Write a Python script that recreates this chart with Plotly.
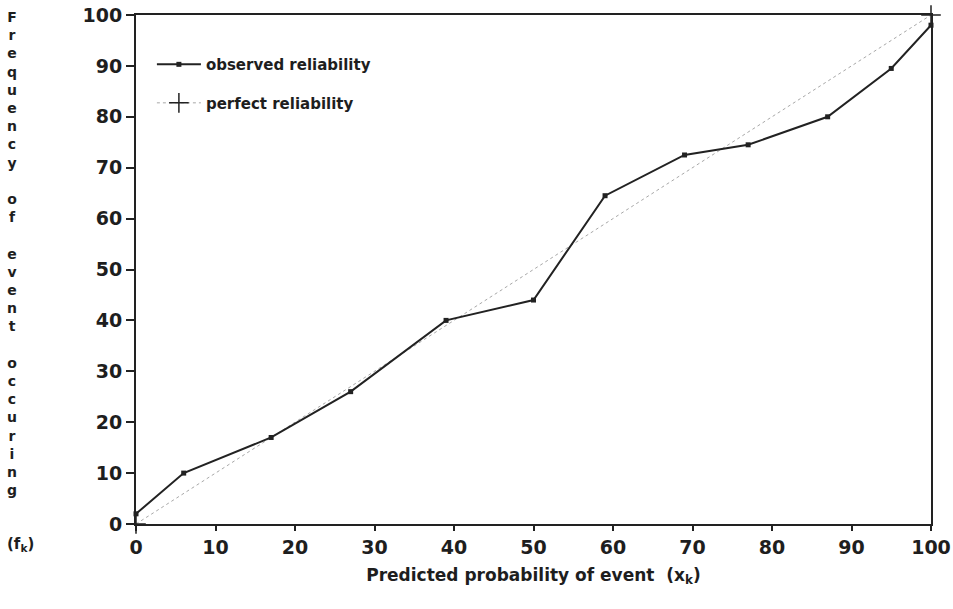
import plotly.graph_objects as go

# Data
obs_x = [0, 6, 17, 27, 39, 50, 59, 69, 77, 87, 95, 100]
obs_y = [2, 10, 17, 26, 40, 44, 64.5, 72.5, 74.5, 80, 89.5, 98]
perf_x = [0, 100]
perf_y = [0, 100]
tick_vals = [0, 10, 20, 30, 40, 50, 60, 70, 80, 90, 100]

FONT = "DejaVu Sans"
TXT = "#1e1e1e"

fig = go.Figure()
fig.add_trace(go.Scatter(
    x=perf_x, y=perf_y, mode="lines+markers", name="perfect reliability",
    line=dict(color="#a8a8a8", width=1, dash="dot"),
    marker=dict(symbol="cross-thin", size=14, line=dict(color="#222", width=1.5)),
    legendgroup="b", legendrank=2, cliponaxis=False,
))
fig.add_trace(go.Scatter(
    x=obs_x, y=obs_y, mode="lines+markers", name="observed reliability",
    line=dict(color="#222", width=2),
    marker=dict(symbol="square", size=5, color="#222"),
    legendgroup="a", legendrank=1, cliponaxis=False,
))

y_title = "<br>".join(list("Frequency") + [" "] + list("of") + [" "] + list("event") + [" "] + list("occuring"))
fig.add_annotation(text=y_title, xref="paper", yref="paper", x=-0.156, y=1, yshift=8,
                   xanchor="center", yanchor="top", showarrow=False, align="center",
                   font=dict(family=FONT, size=14, color=TXT, weight="bold"))
fig.add_annotation(text="(f<sub>k</sub>)", xref="paper", yref="paper", x=-0.145, y=-0.04,
                   xanchor="center", yanchor="middle", showarrow=False,
                   font=dict(family=FONT, size=15, color=TXT, weight="bold"))

axis_common = dict(
    range=[0, 100], tickvals=tick_vals, showgrid=False, zeroline=False,
    showline=True, linecolor="#222", linewidth=2, mirror=True,
    ticks="outside", tickcolor="#222", tickwidth=1.5, automargin=False,
    ticklabeloverflow="allow",
    tickfont=dict(family=FONT, size=19, color=TXT, weight="bold"),
)
fig.update_xaxes(**axis_common, ticklen=5,
                 title=dict(text="Predicted probability of event  (x<sub>k</sub>)",
                            font=dict(family=FONT, size=17, color=TXT, weight="bold"),
                            standoff=12))
fig.update_yaxes(**axis_common, ticklen=8)

fig.update_layout(
    width=953, height=609,
    margin=dict(l=136, r=22, t=15, b=85, autoexpand=False),
    plot_bgcolor="white", paper_bgcolor="white",
    legend=dict(x=0.02, y=0.935, xanchor="left", yanchor="top",
                font=dict(family=FONT, size=15, color=TXT, weight="bold"),
                bgcolor="rgba(0,0,0,0)", tracegroupgap=16, itemwidth=44),
    showlegend=True,
)
fig.write_html("out.html", config={"displayModeBar": False},
               post_script="document.body.style.margin='0';document.body.style.overflow='hidden';")
